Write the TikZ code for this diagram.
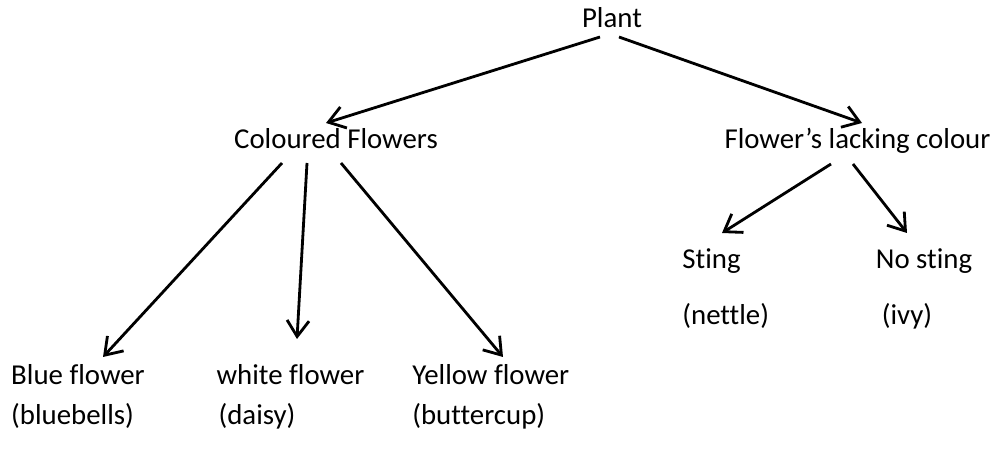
\documentclass[tikz,border=0pt]{standalone}
\usepackage{fontspec}
\setmainfont{Carlito}[Ligatures={NoCommon}]
\usepackage{tikz}
\tikzstyle{lbl}=[inner sep=0pt,
                 font=\fontsize{16.4}{20}\selectfont,
                 anchor=base]
\tikzstyle{arr}=[line width=1.6pt,
                 -{Straight Barb[length=0.32cm, width=0.44cm]}]
\usetikzlibrary{positioning, arrows.meta}

\begin{document}
\begin{tikzpicture}

\useasboundingbox (0,0) rectangle (19.96,-9.04);

% top level
\node[lbl] (plant) at (12.24,-0.56) {Plant};

% second level
\node[lbl] (cf)  at (6.72,-2.98)  {Coloured Flowers};
\node[lbl] (flc) at (17.15,-2.98) {Flower’s lacking colour};

% coloured flowers
\node[lbl] (blue)  at (1.56,-7.70) {Blue flower};
\node[lbl] (white) at (5.81,-7.70) {white flower};
\node[lbl, anchor=base west] (yellow) at (8.24,-7.70) {Yellow flower};

\node[lbl, below=0.8cm of blue.base west, anchor=base west] (bluebells) {(bluebells)};
\node[lbl, below=0.8cm of white.base west, anchor=base west, xshift=0.04cm] (daisy) {(daisy)};
\node[lbl, below=0.8cm of yellow.base west, anchor=base west] (buttercup) {(buttercup)};

% flowers lacking colour
\node[lbl] (sting)   at (14.23,-5.38) {Sting};
\node[lbl] (nosting) at (18.48,-5.38) {No sting};

\node[lbl, below=1.12cm of sting.base west, anchor=base west] (nettle) {(nettle)};
\node[lbl, below=1.12cm of nosting.base west, anchor=base west, xshift=0.12cm] (ivy) {(ivy)};

% paths
\path[arr] ([shift={(-0.24,-0.18)}]plant.base) edge ([shift={(-0.20,0.52)}]cf.base);
\path[arr] ([shift={(0.14,-0.18)}]plant.base) edge ([shift={(0.09,0.52)}]flc.base);

\path[arr] ([shift={(-1.08,-0.28)}]cf.base) edge ([shift={(0.50,0.56)}]blue.base);
\path[arr] ([shift={(-0.58,-0.28)}]cf.base) edge ([shift={(0.13,0.92)}]white.base);
\path[arr] ([shift={(0.10,-0.28)}]cf.base) edge ([shift={(1.82,0.56)}]yellow.base west);

\path[arr] ([shift={(-0.53,-0.30)}]flc.base) edge ([shift={(0.21,0.72)}]sting.base);
\path[arr] ([shift={(-0.09,-0.30)}]flc.base) edge ([shift={(-0.34,0.72)}]nosting.base);

\end{tikzpicture}
\end{document}
